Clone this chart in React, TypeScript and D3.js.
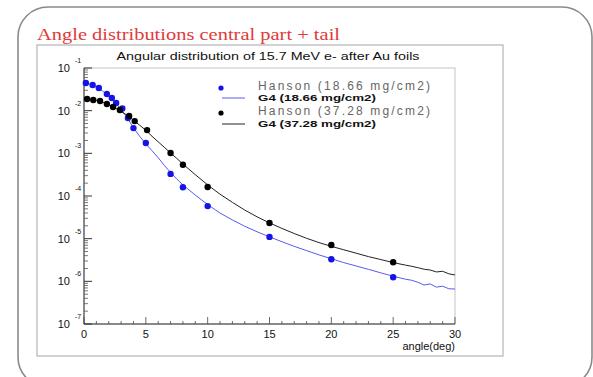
import React from "react";
import * as d3 from "d3";

// Hanson measurements (angle in degrees, dN/dΩ normalised)
const hanson1866Angle = [0.15, 0.7, 1.2, 1.85, 2.25, 2.6, 3.1, 3.55, 4.0, 5.0, 7, 8, 10, 15, 20, 25];
const hanson1866Value = [4.45e-2, 4.0e-2, 3.4e-2, 2.46e-2, 1.98e-2, 1.51e-2, 1.12e-2, 6.7e-3, 3.9e-3, 1.74e-3, 3.3e-4, 1.6e-4, 5.8e-5, 1.1e-5, 3.3e-6, 1.25e-6];

const hanson3728Angle = [0.25, 0.75, 1.3, 1.85, 2.35, 2.9, 3.65, 4.1, 5.1, 7, 8, 10, 15, 20, 25];
const hanson3728Value = [1.87e-2, 1.78e-2, 1.69e-2, 1.43e-2, 1.22e-2, 1.04e-2, 7.5e-3, 5.7e-3, 3.5e-3, 1.02e-3, 5.4e-4, 1.63e-4, 2.33e-5, 7.1e-6, 2.8e-6];

// Geant4 simulation
const g4Angle = [0, 0.5, 1, 1.5, 2, 2.5, 3, 3.5, 4, 4.5, 5, 5.5, 6, 6.5, 7, 7.5, 8, 9, 10, 11, 12, 13, 14, 15, 16, 17, 18, 19, 20, 21, 22, 23, 24, 25, 26, 26.5, 27, 27.5, 28, 28.5, 29, 29.5, 30];
const g41866Value = [4.47e-2, 4.17e-2, 3.55e-2, 2.88e-2, 2.19e-2, 1.58e-2, 1.07e-2, 6.76e-3, 3.98e-3, 2.51e-3, 1.66e-3, 1.15e-3, 7.9e-4, 5.2e-4, 3.55e-4, 2.51e-4, 1.82e-4, 1.05e-4, 6.3e-5, 3.98e-5, 2.75e-5, 1.95e-5, 1.45e-5, 1.1e-5, 8.5e-6, 6.6e-6, 5.25e-6, 4.17e-6, 3.39e-6, 2.75e-6, 2.29e-6, 1.91e-6, 1.58e-6, 1.32e-6, 1.12e-6, 1.06e-6, 9.5e-7, 8.2e-7, 8.7e-7, 7.3e-7, 7.7e-7, 6.7e-7, 6.6e-7];
const g43728Value = [1.91e-2, 1.86e-2, 1.74e-2, 1.58e-2, 1.38e-2, 1.17e-2, 9.5e-3, 7.8e-3, 6.0e-3, 4.57e-3, 3.47e-3, 2.51e-3, 1.86e-3, 1.38e-3, 1.02e-3, 7.6e-4, 5.6e-4, 3.16e-4, 1.82e-4, 1.1e-4, 7.1e-5, 4.68e-5, 3.24e-5, 2.34e-5, 1.74e-5, 1.32e-5, 1.02e-5, 8.1e-6, 6.6e-6, 5.5e-6, 4.57e-6, 3.8e-6, 3.24e-6, 2.75e-6, 2.4e-6, 2.25e-6, 2.09e-6, 1.92e-6, 1.84e-6, 1.66e-6, 1.72e-6, 1.5e-6, 1.41e-6];

const xTicks = [0, 5, 10, 15, 20, 25, 30];
const yExponents = [-1, -2, -3, -4, -5, -6, -7];

const legendLabels = ["Hanson (18.66 mg/cm2)", "G4 (18.66 mg/cm2)", "Hanson (37.28 mg/cm2)", "G4 (37.28 mg/cm2)"];

const BLUE = "#1414e6";
const BLUE_LINE = "#5a5af0";
const SANS = "'Liberation Sans', Arial, Helvetica, sans-serif";

export default function App() {
  const left = 84, right = 455, top = 68, bottom = 324;
  const x = d3.scaleLinear().domain([0, 30]).range([left, right]);
  const y = d3.scaleLog().domain([1e-7, 1e-1]).range([bottom, top]);

  const line = d3
    .line<[number, number]>()
    .x((d) => x(d[0]))
    .y((d) => y(d[1]));

  const g4Blue = line(g4Angle.map((a, i) => [a, g41866Value[i]] as [number, number])) || "";
  const g4Black = line(g4Angle.map((a, i) => [a, g43728Value[i]] as [number, number])) || "";

  const xMinor = d3.range(0, 31, 1);
  const yMinor: number[] = [];
  for (let e = -7; e < -1; e++) {
    for (let m = 2; m <= 9; m++) yMinor.push(m * Math.pow(10, e));
  }

  return (
    <svg
      width={593}
      height={377}
      style={{ position: "absolute", left: 0, top: 0, display: "block", background: "#fff" }}
    >
      {/* slide frame */}
      <rect x={18} y={7} width={574} height={380} rx={30} ry={30} fill="#fff" stroke="#8a8a8a" strokeWidth={1.6} />

      <text x={37} y={40} fontFamily="'Liberation Serif', 'DejaVu Serif', serif" fontSize={17} fill="#e23a3a" textLength={303} lengthAdjust="spacingAndGlyphs">
        Angle distributions central part + tail
      </text>

      {/* canvas pad */}
      <rect x={37} y={45} width={466} height={311} fill="#fff" stroke="#b4b4b4" strokeWidth={1.2} />

      <text x={268} y={60} textAnchor="middle" fontFamily={SANS} fontSize={10.5} fill="#111" textLength={303} lengthAdjust="spacingAndGlyphs">
        Angular distribution of 15.7 MeV e- after Au foils
      </text>

      {/* plot frame */}
      <rect x={left} y={top} width={right - left} height={bottom - top} fill="none" stroke="#c4c4c4" strokeWidth={1} />
      <line x1={left} x2={left} y1={top} y2={bottom} stroke="#333" strokeWidth={1} />
      <line x1={left} x2={right} y1={bottom} y2={bottom} stroke="#333" strokeWidth={1} />

      {/* y axis ticks */}
      {yExponents.map((e) => (
        <line key={"ym" + e} x1={left} x2={left + 8} y1={y(Math.pow(10, e))} y2={y(Math.pow(10, e))} stroke="#333" />
      ))}
      {yMinor.map((v, i) => (
        <line key={"yn" + i} x1={left} x2={left + 4} y1={y(v)} y2={y(v)} stroke="#555" strokeWidth={0.8} />
      ))}
      {yExponents.map((e) => (
        <g key={"yl" + e} fontFamily={SANS} fill="#111">
          <text x={70} y={y(Math.pow(10, e)) + 4} textAnchor="end" fontSize={11}>10</text>
          <text x={75} y={y(Math.pow(10, e)) - 5} fontSize={7}>{e}</text>
        </g>
      ))}

      {/* x axis ticks */}
      {xMinor.map((v) => (
        <line key={"xn" + v} x1={x(v)} x2={x(v)} y1={bottom} y2={bottom - (v % 5 === 0 ? 7 : 3)} stroke="#444" strokeWidth={0.8} />
      ))}
      {xTicks.map((v) => (
        <text key={"xl" + v} x={x(v)} y={338} textAnchor="middle" fontFamily={SANS} fontSize={11} fill="#111">
          {v}
        </text>
      ))}
      <text x={right} y={350} textAnchor="end" fontFamily={SANS} fontSize={11} fill="#111">
        angle(deg)
      </text>

      {/* simulation curves */}
      <path d={g4Blue} fill="none" stroke={BLUE_LINE} strokeWidth={1} />
      <path d={g4Black} fill="none" stroke="#222" strokeWidth={1} />

      {/* measurements */}
      {hanson1866Angle.map((a, i) => (
        <circle key={"hb" + i} cx={x(a)} cy={y(hanson1866Value[i])} r={3.2} fill={BLUE} />
      ))}
      {hanson3728Angle.map((a, i) => (
        <circle key={"hk" + i} cx={x(a)} cy={y(hanson3728Value[i])} r={3.2} fill="#000" />
      ))}

      {/* legend */}
      <circle cx={221} cy={88} r={2.6} fill={BLUE} />
      <line x1={222} x2={245} y1={98} y2={98} stroke={BLUE_LINE} strokeWidth={1} />
      <circle cx={221} cy={113} r={2.6} fill="#000" />
      <line x1={222} x2={245} y1={124} y2={124} stroke="#222" strokeWidth={1} />
      <text x={258} y={90} fontFamily={SANS} fontSize={12} fill="#666" textLength={172} lengthAdjust="spacing">{legendLabels[0]}</text>
      <text x={258} y={101} fontFamily={SANS} fontSize={9.5} fontWeight={600} fill="#111" textLength={118} lengthAdjust="spacingAndGlyphs">{legendLabels[1]}</text>
      <text x={258} y={115} fontFamily={SANS} fontSize={12} fill="#666" textLength={172} lengthAdjust="spacing">{legendLabels[2]}</text>
      <text x={258} y={127} fontFamily={SANS} fontSize={9.5} fontWeight={600} fill="#111" textLength={118} lengthAdjust="spacingAndGlyphs">{legendLabels[3]}</text>
    </svg>
  );
}
